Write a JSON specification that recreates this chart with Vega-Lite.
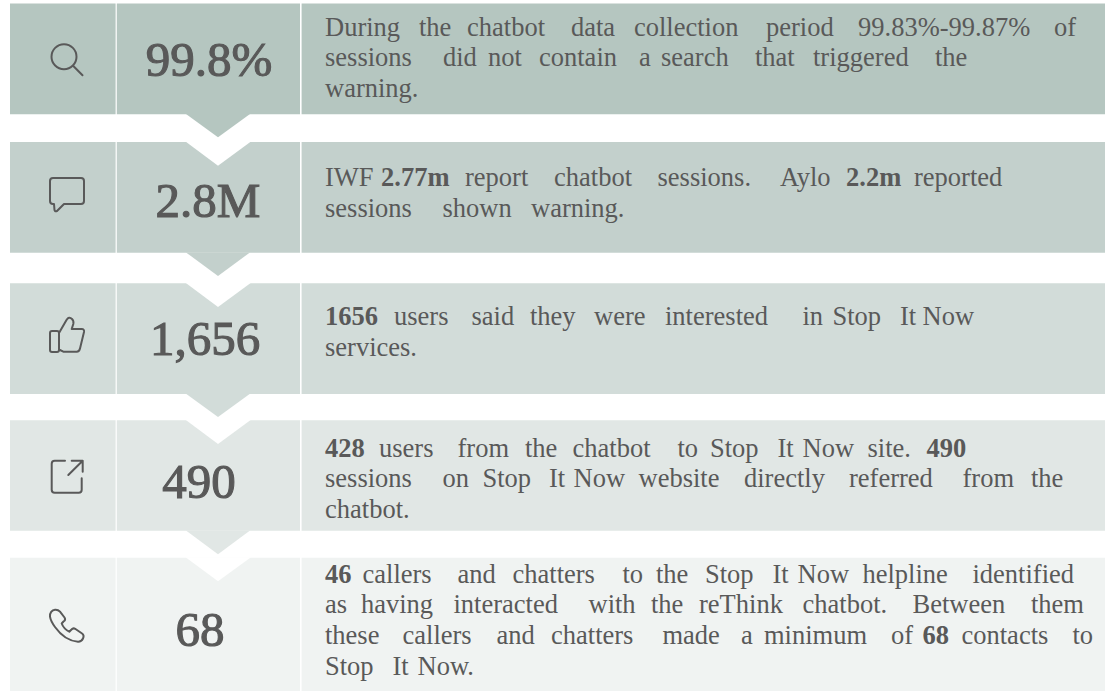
{"$schema":"https://vega.github.io/schema/vega-lite/v6.json","width":1105,"height":691,"autosize":{"type":"fit","contains":"padding"},"padding":0,"background":"#ffffff","config":{"view":{"stroke":null}},
"datasets":{
"cells":[
{"step":1,"x":10,"x2":115.6,"y":3.6,"y2":114.3},{"step":1,"x":116.8,"x2":300,"y":3.6,"y2":114.3},{"step":1,"x":301.6,"x2":1105,"y":3.6,"y2":114.3},
{"step":2,"x":10,"x2":115.6,"y":142,"y2":252.7},{"step":2,"x":116.8,"x2":300,"y":142,"y2":252.7},{"step":2,"x":301.6,"x2":1105,"y":142,"y2":252.7},
{"step":3,"x":10,"x2":115.6,"y":283.3,"y2":394},{"step":3,"x":116.8,"x2":300,"y":283.3,"y2":394},{"step":3,"x":301.6,"x2":1105,"y":283.3,"y2":394},
{"step":4,"x":10,"x2":115.6,"y":420.3,"y2":530.7},{"step":4,"x":116.8,"x2":300,"y":420.3,"y2":530.7},{"step":4,"x":301.6,"x2":1105,"y":420.3,"y2":530.7},
{"step":5,"x":10,"x2":115.6,"y":557.7,"y2":691},{"step":5,"x":116.8,"x2":300,"y":557.7,"y2":691},{"step":5,"x":301.6,"x2":1105,"y":557.7,"y2":691}],
"arrows":[
{"step":1,"x":186,"y":114,"y2":114},{"step":1,"x":218,"y":114,"y2":137.3},{"step":1,"x":250,"y":114,"y2":114},
{"step":2,"x":186,"y":252.4,"y2":252.4},{"step":2,"x":218,"y":252.4,"y2":276},{"step":2,"x":250,"y":252.4,"y2":252.4},
{"step":3,"x":186,"y":393.7,"y2":393.7},{"step":3,"x":218,"y":393.7,"y2":417},{"step":3,"x":250,"y":393.7,"y2":393.7},
{"step":4,"x":186,"y":530.4,"y2":530.4},{"step":4,"x":218,"y":530.4,"y2":554.3},{"step":4,"x":250,"y":530.4,"y2":530.4}],
"notches":[
{"step":2,"x":185.5,"y":141.5,"y2":141.5},{"step":2,"x":218,"y":141.5,"y2":165.7},{"step":2,"x":251,"y":141.5,"y2":141.5},
{"step":3,"x":185.5,"y":282.8,"y2":282.8},{"step":3,"x":218,"y":282.8,"y2":307},{"step":3,"x":251,"y":282.8,"y2":282.8},
{"step":4,"x":185.5,"y":419.8,"y2":419.8},{"step":4,"x":218,"y":419.8,"y2":444},{"step":4,"x":251,"y":419.8,"y2":419.8},
{"step":5,"x":185.5,"y":557.2,"y2":557.2},{"step":5,"x":218,"y":557.2,"y2":581.3},{"step":5,"x":251,"y":557.2,"y2":557.2}],
"icons":[{"icon":"search","x":66,"y":59},{"icon":"comment","x":67,"y":195},{"icon":"thumb","x":66,"y":340},{"icon":"open","x":67,"y":477},{"icon":"phone","x":67,"y":626}],
"numbers":[{"label":"99.8%","x":209,"y":76},{"label":"2.8M","x":208,"y":217},{"label":"1,656","x":205,"y":355},{"label":"490","x":199,"y":498},{"label":"68","x":200,"y":646}],
"words":[
{"w":"During","x":325,"y":35.7},{"w":"the","x":419,"y":35.7},{"w":"chatbot","x":467,"y":35.7},{"w":"data","x":571,"y":35.7},{"w":"collection","x":634,"y":35.7},{"w":"period","x":766,"y":35.7},{"w":"99.83%-99.87%","x":858,"y":35.7},{"w":"of","x":1054,"y":35.7},
{"w":"sessions","x":325,"y":66},{"w":"did","x":443,"y":66},{"w":"not","x":488,"y":66},{"w":"contain","x":539,"y":66},{"w":"a","x":639,"y":66},{"w":"search","x":661,"y":66},{"w":"that","x":755,"y":66},{"w":"triggered","x":813,"y":66},{"w":"the","x":935,"y":66},
{"w":"warning.","x":325,"y":96.7},
{"w":"IWF","x":325,"y":186},{"w":"2.77m","x":381,"y":186,"bold":true},{"w":"report","x":465,"y":186},{"w":"chatbot","x":554,"y":186},{"w":"sessions.","x":657.5,"y":186},{"w":"Aylo","x":780,"y":186},{"w":"2.2m","x":846,"y":186,"bold":true},{"w":"reported","x":914,"y":186},
{"w":"sessions","x":325,"y":216.7},{"w":"shown","x":442.5,"y":216.7},{"w":"warning.","x":531,"y":216.7},
{"w":"1656","x":325,"y":325,"bold":true},{"w":"users","x":394,"y":325},{"w":"said","x":471.5,"y":325},{"w":"they","x":530,"y":325},{"w":"were","x":594,"y":325},{"w":"interested","x":665,"y":325},{"w":"in","x":802.5,"y":325},{"w":"Stop","x":832.5,"y":325},{"w":"It","x":900,"y":325},{"w":"Now","x":922.5,"y":325},
{"w":"services.","x":325,"y":356},
{"w":"428","x":325,"y":457.3,"bold":true},{"w":"users","x":379,"y":457.3},{"w":"from","x":457.5,"y":457.3},{"w":"the","x":525,"y":457.3},{"w":"chatbot","x":572.5,"y":457.3},{"w":"to","x":677.5,"y":457.3},{"w":"Stop","x":710,"y":457.3},{"w":"It","x":777.5,"y":457.3},{"w":"Now","x":802.5,"y":457.3},{"w":"site.","x":867.5,"y":457.3},{"w":"490","x":926.5,"y":457.3,"bold":true},
{"w":"sessions","x":325,"y":487.3},{"w":"on","x":442.5,"y":487.3},{"w":"Stop","x":482.5,"y":487.3},{"w":"It","x":549,"y":487.3},{"w":"Now","x":573.5,"y":487.3},{"w":"website","x":638.5,"y":487.3},{"w":"directly","x":744,"y":487.3},{"w":"referred","x":849,"y":487.3},{"w":"from","x":962.5,"y":487.3},{"w":"the","x":1031,"y":487.3},
{"w":"chatbot.","x":325,"y":518.3},
{"w":"46","x":325,"y":583.3,"bold":true},{"w":"callers","x":362.5,"y":583.3},{"w":"and","x":457.5,"y":583.3},{"w":"chatters","x":512.5,"y":583.3},{"w":"to","x":622.5,"y":583.3},{"w":"the","x":656,"y":583.3},{"w":"Stop","x":705,"y":583.3},{"w":"It","x":772.5,"y":583.3},{"w":"Now","x":797.5,"y":583.3},{"w":"helpline","x":862.5,"y":583.3},{"w":"identified","x":972.5,"y":583.3},
{"w":"as","x":325,"y":613.3},{"w":"having","x":361,"y":613.3},{"w":"interacted","x":453.5,"y":613.3},{"w":"with","x":588.5,"y":613.3},{"w":"the","x":651,"y":613.3},{"w":"reThink","x":699,"y":613.3},{"w":"chatbot.","x":802.5,"y":613.3},{"w":"Between","x":912.5,"y":613.3},{"w":"them","x":1031,"y":613.3},
{"w":"these","x":325,"y":644},{"w":"callers","x":402.5,"y":644},{"w":"and","x":496.5,"y":644},{"w":"chatters","x":551,"y":644},{"w":"made","x":662.5,"y":644},{"w":"a","x":741,"y":644},{"w":"minimum","x":764,"y":644},{"w":"of","x":891,"y":644},{"w":"68","x":922.5,"y":644,"bold":true},{"w":"contacts","x":961.5,"y":644},{"w":"to","x":1072.5,"y":644},
{"w":"Stop","x":325,"y":675},{"w":"It","x":392.5,"y":675},{"w":"Now.","x":417.5,"y":675}]
},
"encoding":{
"x":{"field":"x","type":"quantitative","scale":{"domain":[0,1105],"nice":false,"zero":false},"axis":null},
"y":{"field":"y","type":"quantitative","scale":{"domain":[0,691],"nice":false,"zero":false,"reverse":true},"axis":null}},
"layer":[
{"data":{"name":"cells"},"mark":{"type":"rect"},"encoding":{"x2":{"field":"x2"},"y2":{"field":"y2"},"color":{"field":"step","type":"ordinal","scale":{"domain":[1,2,3,4,5],"range":["#b5c6c0","#c3d0cc","#d2dcd9","#e1e7e5","#f0f3f2"]},"legend":null}}},
{"data":{"name":"arrows"},"mark":{"type":"area","orient":"vertical"},"encoding":{"y2":{"field":"y2"},"color":{"field":"step","type":"ordinal","legend":null}}},
{"data":{"name":"notches"},"mark":{"type":"area","orient":"vertical","color":"#ffffff"},"encoding":{"y2":{"field":"y2"},"detail":{"field":"step"}}},
{"data":{"name":"icons"},"mark":{"type":"point","filled":false,"size":4,"opacity":1,"stroke":"#595959","strokeWidth":2,"strokeJoin":"round","strokeCap":"round"},"encoding":{"shape":{"field":"icon","type":"nominal","legend":null,"scale":{"domain":["search","comment","thumb","open","phone"],"range":[
"M10.5,-2.3A12.5,12.5 0 1 1 -14.5,-2.3A12.5,12.5 0 1 1 10.5,-2.3M6.8,6.5L16.5,16.3",
"M-14,-17H14Q17,-17 17,-14V6Q17,9 14,9H-3L-10,16Q-12,17 -12.5,15L-13,9H-14Q-17,9 -17,6V-14Q-17,-17 -14,-17Z",
"M-7,-7L0.5,-20Q3,-24 6,-21Q8,-19 7.3,-16L5.7,-11H15.7Q18.5,-11 18,-8L14,8.5Q13.3,11.7 10.7,11.7H-2.7L-7,9.5M-14,-9H-9Q-7,-9 -7,-7V10Q-7,12 -9,12H-14Q-16,12 -16,10V-7Q-16,-9 -14,-9Z",
"M-2,-16.3H-12.3Q-15.3,-16.3 -15.3,-13.3V12.7Q-15.3,15.7 -12.3,15.7H11.7Q14.7,15.7 14.7,12.7V1.3M1.3,-2L15.7,-16.3M4.7,-16.3H15.7V-5.3",
"M-17,-9.3C-17.5,-13 -15,-16 -12,-16.3C-10,-16.5 -8.5,-16 -7,-14.3L-2.5,-8.5C-1.5,-7 -2,-5.5 -3.5,-4.5L-5.3,-2.5C-4,1 -1,4 2.3,5.7L4.5,3.5C5.5,2.3 7,2 8.5,3L14.7,7.3C16.5,8.5 17,10.5 16,12.5C15,14.5 13,15.8 11,15.7C1,15 -7,8 -12,1C-15,-3 -16.5,-6 -17,-9.3Z"]}}}},
{"data":{"name":"numbers"},"mark":{"type":"text","font":"Liberation Serif","fontSize":49,"align":"center","baseline":"alphabetic","fill":"#595959","stroke":"#595959","strokeWidth":1.1},"encoding":{"text":{"field":"label"}}},
{"data":{"name":"words"},"transform":[{"filter":"!datum.bold"}],"mark":{"type":"text","font":"Liberation Serif","fontSize":26.5,"align":"left","baseline":"alphabetic","fill":"#595959"},"encoding":{"text":{"field":"w"}}},
{"data":{"name":"words"},"transform":[{"filter":"datum.bold"}],"mark":{"type":"text","font":"Liberation Serif","fontSize":26.5,"fontWeight":"bold","align":"left","baseline":"alphabetic","fill":"#595959"},"encoding":{"text":{"field":"w"}}}
]}
